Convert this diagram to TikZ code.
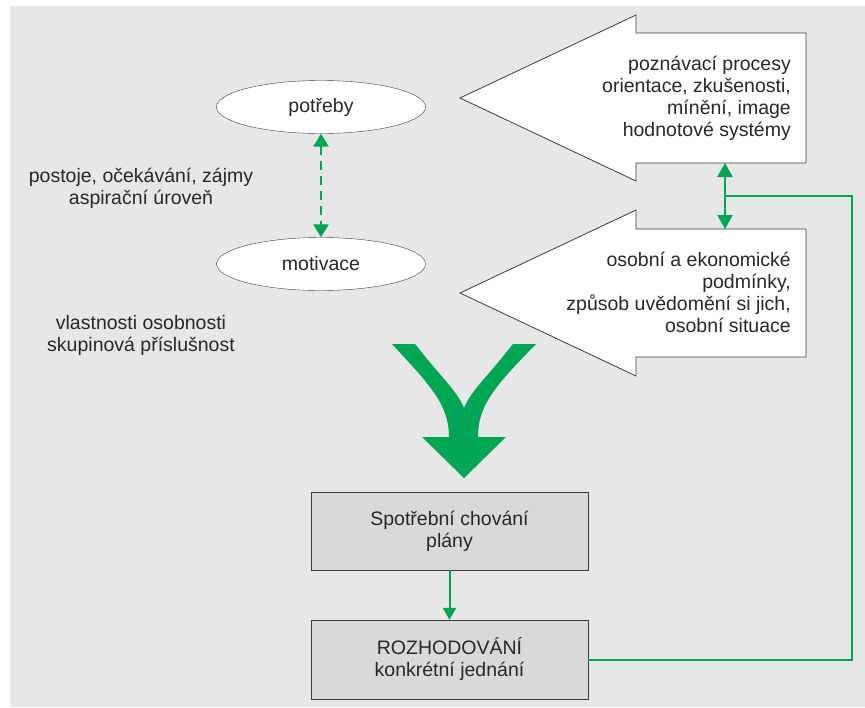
\documentclass[tikz,border=0pt]{standalone}
\usepackage{fontspec}
\setmainfont{Liberation Sans}
\usetikzlibrary{arrows.meta,shapes.geometric}
\definecolor{zelena}{RGB}{0,166,81}
\definecolor{pozadi}{RGB}{231,231,231}
\definecolor{ramecek}{RGB}{217,217,217}
\definecolor{obrys}{RGB}{60,60,60}
\definecolor{pismo}{RGB}{40,40,40}

\begin{document}
\begin{tikzpicture}[x=1pt, y=-1pt,
    every node/.style={font=\fontsize{19.5}{22}\selectfont, text=pismo, inner sep=0pt},
    elipsa/.style={draw=obrys, fill=white, ellipse, minimum width=209pt, minimum height=53pt},
    krabice/.style={draw=obrys, fill=ramecek, rectangle, minimum width=277pt, minimum height=78pt, align=center},
    sipka/.style={draw=obrys, fill=white, line width=0.8pt},
    spoj/.style={zelena, line width=2pt}]
        \useasboundingbox (0,0) rectangle (865,707);
        \fill[pozadi] (10,6) rectangle (865,707);

        % Big arrows
        \draw[sipka] (806,33) -- (636,33) -- (636,15) -- (460,98) -- (636,181) -- (636,163) -- (806,163) -- cycle;
        \draw[sipka] (806,229) -- (636,229) -- (636,210) -- (460,293) -- (636,376) -- (636,357) -- (806,357) -- cycle;
        \node[align=right, anchor=east] (poznani) at (791,98) {poznávací procesy\\orientace, zkušenosti,\\mínění, image\\hodnotové systémy};
        \node[align=right, anchor=east] (podminky) at (791,292) {osobní a ekonomické\\podmínky,\\způsob uvědomění si jich,\\osobní situace};
        \coordinate (horni) at (725,163);
        \coordinate (dolni) at (725,229);
        \coordinate (uzel) at (725,196);

        % Ellipses
        \node[elipsa] (potreby) at (321,107) {potřeby};
        \node[elipsa] (motivace) at (321,264) {motivace};
        \draw[spoj, line width=2.5pt, dash pattern=on 9pt off 6pt, {Triangle[width=15pt,length=13pt]}-{Triangle[width=15pt,length=13pt]}] (potreby) -- (motivace);
        \node[align=center] (postoje) at (141,188) {postoje, očekávání, zájmy\\aspirační úroveň};
        \node[align=center] (vlastnosti) at (141,335) {vlastnosti osobnosti\\skupinová příslušnost};

        % Green Y arrow
        \fill[zelena] (392,344) -- (415,344) .. controls (440,376) and (458,392) .. (464,408)
            .. controls (470,392) and (488,376) .. (513,344) -- (536,344)
            .. controls (495,386) and (478,405) .. (478,437) -- (506,437) -- (464,478) -- (422,437) -- (449,437)
            .. controls (449,405) and (431,386) .. (392,344) -- cycle;
        \draw[draw={rgb,255:red,20;green,150;blue,140}, line width=0.6pt] (457,409) rectangle (476,437);

        % Boxes
        \node[krabice] (spotreba) at (449.5,531) {Spotřební chování\\plány};
        \node[krabice, minimum height=79pt] (rozhodovani) at (449.5,659.5) {ROZHODOVÁNÍ\\konkrétní jednání};
        \draw[spoj, -{Triangle[width=13pt,length=12pt]}] (spotreba) -- (rozhodovani);

        % Feedback
        \draw[spoj, line width=2.5pt, {Triangle[width=15pt,length=14pt]}-{Triangle[width=15pt,length=14pt]}] (horni) -- (dolni);
        \draw[spoj] (rozhodovani.east) -- ++(264,0) |- (uzel);
    \end{tikzpicture}
\end{document}
